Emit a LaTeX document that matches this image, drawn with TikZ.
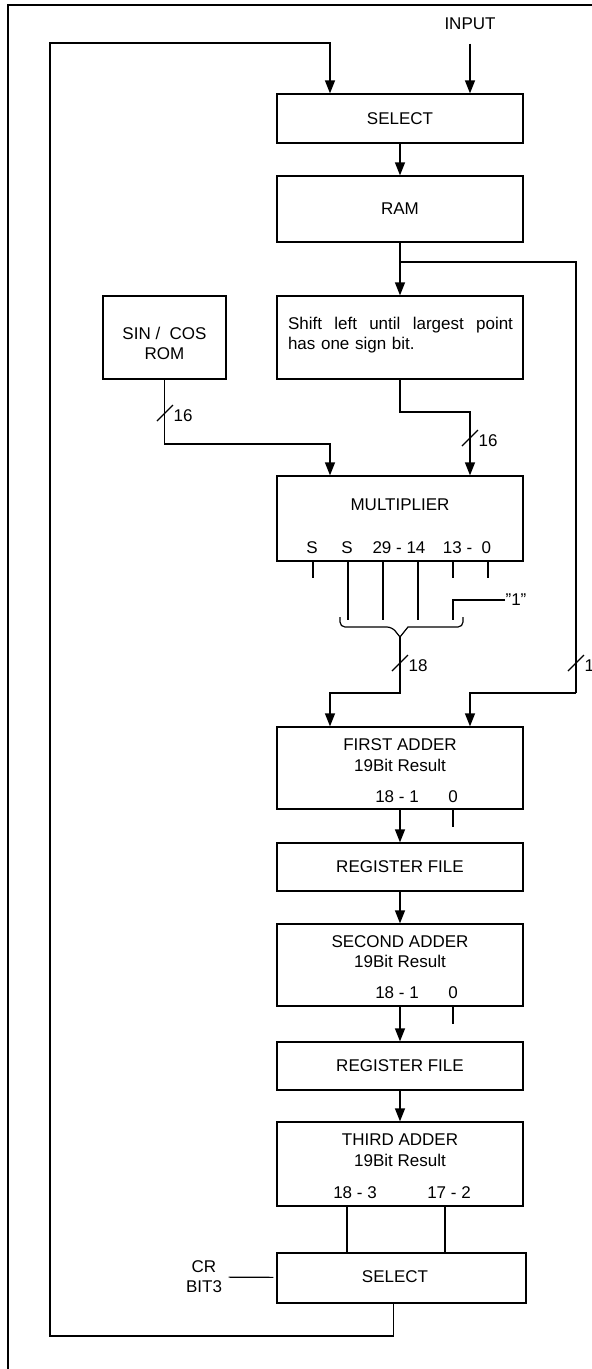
\documentclass[tikz,border=0pt]{standalone}
\usepackage{fontspec}
\setmainfont{Liberation Sans}
\usetikzlibrary{arrows.meta,positioning}

\begin{document}
\begin{tikzpicture}[
    x=1pt, y=-1pt,
    line width=1.2pt,
    font=\fontsize{17}{20}\selectfont,
    bloc/.style={
      draw,
      rectangle,
      inner sep=0pt,
      minimum width=246pt
    },
    texte/.style={
      inner sep=0pt
    },
    fleche/.style={-{Triangle[length=13pt,width=10pt]}}
  ]
  \useasboundingbox (0,0) rectangle (592,1369);
  % cadre
  \draw[line width=1.8pt] (8,1369) -- (8,5) -- (592,5);

  % blocs
  \node[bloc, minimum height=49pt] (sel1) at (400,118.5) {SELECT};
  \node[bloc, minimum height=66pt] (ram) at (400,209) {RAM};
  \node[bloc, minimum height=83pt] (decal) at (400,337.5) {};
  \node[bloc, minimum height=83pt, minimum width=123pt] (rom) at (164.5,337.5) {};
  \node[bloc, minimum height=85pt] (mult) at (400,518.5) {};
  \node[bloc, minimum height=82pt] (add1) at (400,768) {};
  \node[bloc, minimum height=48pt] (reg1) at (400,867) {REGISTER FILE};
  \node[bloc, minimum height=82pt] (add2) at (400,965) {};
  \node[bloc, minimum height=48pt] (reg2) at (400,1066) {REGISTER FILE};
  \node[bloc, minimum height=84pt] (add3) at (400,1164) {};
  \node[bloc, minimum height=50pt, minimum width=249pt] (sel2) at (401.5,1278) {};

  % textes
  \node[texte] (input) at (470,24) {INPUT};
  \node[texte, text width=225pt, align=left] (decaltxt) at (400.5,335)
    {\makebox[225pt][s]{\spaceskip=0pt Shift left until largest point}\\has one sign bit.};
  \node[texte, align=center] (romtxt) at (164.5,343) {SIN / \ COS\\ROM};
  \node[texte] (multtxt) at (400,505) {MULTIPLIER};
  \node[texte] (m1) at (312,548) {S};
  \node[texte] (m2) at (347,548) {S};
  \node[texte] (m3) at (399,548) {29 - 14};
  \node[texte] (m4) at (467,548) {13 - \ 0};
  \node[texte] (un) at (505,600) [anchor=west] {"1"};
  \node[texte] (add1a) at (400,745) {FIRST ADDER};
  \node[texte] (add1b) at (400,765) {19Bit Result};
  \node[texte] (add1c) at (397,797) {18 - 1};
  \node[texte] (add1d) at (453,797) {0};
  \node[texte] (add2a) at (400,942) {SECOND ADDER};
  \node[texte] (add2b) at (400,961) {19Bit Result};
  \node[texte] (add2c) at (397,993) {18 - 1};
  \node[texte] (add2d) at (453,993) {0};
  \node[texte] (add3a) at (400,1140) {THIRD ADDER};
  \node[texte] (add3b) at (400,1160) {19Bit Result};
  \node[texte] (add3c) at (355,1193) {18 - 3};
  \node[texte] (add3d) at (449,1193) {17 - 2};
  \node[texte] (sel2txt) at (395,1277) {SELECT};
  \node[texte, align=center] (cr) at (204,1277) {CR\\BIT3};

  % points de passage
  \coordinate (jonc) at (400,262);
  \coordinate (d1) at (576,693);
  \coordinate (r1) at (165,444);
  \coordinate (s1) at (400,412);
  \coordinate (acc) at (400,637);
  \coordinate (a1) at (400,693);
  \coordinate (b4) at (453,620);
  \coordinate (b1) at (50,1336);
  \coordinate (b2) at (330,43);

  % liaisons
  \draw[fleche, shorten <=13pt] (input.south) -- ([xshift=70pt]sel1.north);
  \draw[fleche] ([xshift=-8pt]sel2.south) |- (b1) |- (b2) -- ([xshift=-70pt]sel1.north);
  \draw[fleche] (sel1) -- (ram);
  \draw[fleche] (ram) -- (decal);
  \draw (jonc) -| (d1);
  \draw[fleche] (d1) -| ([xshift=70pt]add1.north);
  \draw[fleche] (rom) |- (r1) -| ([xshift=-70pt]mult.north);
  \draw[fleche] (decal) -- (s1) -| ([xshift=70pt]mult.north);

  % sorties du multiplieur
  \foreach \x in {313,453,488}
    \draw (\x,561) -- (\x,578);
  \foreach \x in {348,383,418}
    \draw (\x,561) -- (\x,620);
  \draw (un.west) -| (b4);
  \draw[rounded corners=5pt] (340,617) |- (392,627) [sharp corners] -- (acc) -- (408,627)
    [rounded corners=5pt] -| (463,617);
  \draw[fleche] (acc) -- (a1) -| ([xshift=-70pt]add1.north);

  % bus
  \foreach \x/\y/\n [count=\i] in {165/413/16, 470/438/16, 400/663/18, 576/663/1} {
    \draw (\x-8,\y+8) -- (\x+8,\y-8);
    \node[texte, anchor=west] (bus\i) at (\x+8,\y+3) {\n};
  }

  \draw[fleche] (add1) -- (reg1);
  \draw (453,809) -- (453,827);
  \draw[fleche] (reg1) -- (add2);
  \draw[fleche] (add2) -- (reg2);
  \draw (453,1006) -- (453,1024);
  \draw[fleche] (reg2) -- (add3);
  \draw ([xshift=-53pt]add3.south) -- ([xshift=-53pt]add3.south |- sel2.north);
  \draw ([xshift=45pt]add3.south) -- ([xshift=45pt]add3.south |- sel2.north);
  \draw[shorten <=6pt, shorten >=3pt] (cr) -- (sel2);

\end{tikzpicture}
\end{document}
